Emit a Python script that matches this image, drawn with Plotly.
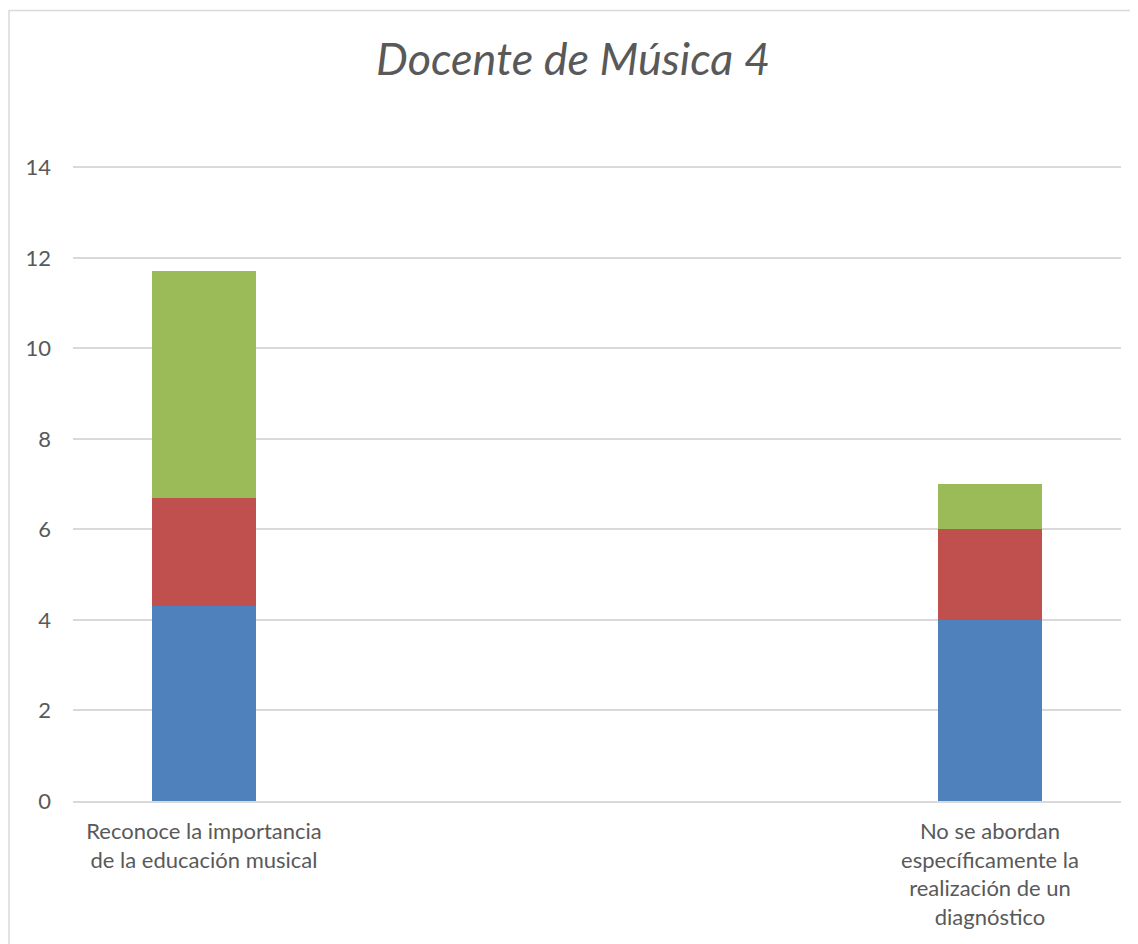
import plotly.graph_objects as go

categories = [
    "Reconoce la importancia<br>de la educación musical",
    " ",
    "  ",
    "No se abordan<br>específicamente la<br>realización de un<br>diagnóstico",
]
serie_azul = [4.3, None, None, 4.0]
serie_roja = [2.4, None, None, 2.0]
serie_verde = [5.0, None, None, 1.0]
y_ticks = [0, 2, 4, 6, 8, 10, 12, 14]

W, H = 1130, 936
ml, mr, mt, mb = 65, 17, 157, 143
pw = W - ml - mr
ph = H - mt - mb

fig = go.Figure()
for name, vals, col in [
    ("Serie 1", serie_azul, "#4F81BD"),
    ("Serie 2", serie_roja, "#C0504D"),
    ("Serie 3", serie_verde, "#9BBB59"),
]:
    fig.add_trace(go.Bar(x=categories, y=vals, name=name, marker_color=col,
                         marker_line_width=0, width=0.4))

fig.update_layout(
    width=W, height=H,
    barmode="stack",
    showlegend=False,
    plot_bgcolor="white",
    paper_bgcolor="white",
    margin=dict(l=ml, r=mr, t=mt, b=mb, autoexpand=False),
    title=dict(text="<i>Docente de Música 4</i>", x=0.5, xanchor="center",
               y=1 - 51 / H, yanchor="middle", yref="container",
               font=dict(family="Lato", size=45, color="#595959")),
    font=dict(family="Lato", color="#595959"),
    xaxis=dict(type="category", categoryorder="array", categoryarray=categories,
               range=[-0.5, 3.5], showgrid=False, ticks="", tickfont=dict(size=22, color="#595959"),
               showline=True, linecolor="#D9D9D9", linewidth=1.5, zeroline=False,
               ticklabelstandoff=10),
    yaxis=dict(range=[0, 14.05], tickvals=y_ticks, showgrid=True, gridcolor="#D9D9D9",
               gridwidth=1.5, zeroline=False, showline=False,
               tickfont=dict(size=22, color="#595959"), ticklabelstandoff=21),
    bargap=0.6,
)

# chart border
fig.add_shape(type="rect", xref="paper", yref="paper",
              x0=(1 - ml) / pw, x1=(W + 5 - ml) / pw,
              y0=(H - mb - (H + 5)) / ph, y1=(H - mb - 2.5) / ph,
              line=dict(color="#D9D9D9", width=1.5), fillcolor="rgba(0,0,0,0)", layer="below")

fig.write_html("out.html")
